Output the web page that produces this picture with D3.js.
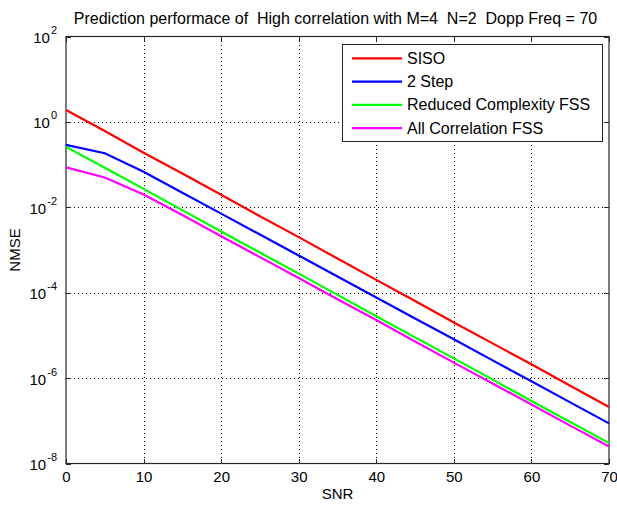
<!DOCTYPE html>
<html>
<head>
<meta charset="utf-8">
<script src="https://cdn.jsdelivr.net/npm/d3@7"></script>
<style>
  html, body { margin: 0; padding: 0; background: #fff; }
  svg { display: block; }
  text { font-family: "Liberation Sans", Arial, sans-serif; fill: #000; }
</style>
</head>
<body>
<svg id="chart" width="617" height="509"></svg>
<script>
// ---- data ----
const snr = [0, 5, 10, 15, 20, 25, 30, 35, 40, 45, 50, 55, 60, 65, 70];
const siso = [1.9, 0.61, 0.19, 0.062, 0.0196, 6.2e-3, 2.0e-3, 6.3e-4, 2.0e-4, 6.4e-5, 2.0e-5, 6.5e-6, 2.1e-6, 6.6e-7, 2.1e-7];
const twoStep = [0.29, 0.184, 0.068, 0.022, 7.1e-3, 2.3e-3, 7.4e-4, 2.4e-4, 7.7e-5, 2.5e-5, 8.1e-6, 2.6e-6, 8.4e-7, 2.7e-7, 8.7e-8];
const reducedFSS = [0.26, 0.084, 0.027, 8.6e-3, 2.7e-3, 8.7e-4, 2.8e-4, 8.9e-5, 2.8e-5, 9.0e-6, 2.9e-6, 9.2e-7, 2.9e-7, 9.4e-8, 3.0e-8];
const allCorrFSS = [0.086, 0.050, 0.020, 6.6e-3, 2.1e-3, 6.8e-4, 2.2e-4, 7.0e-5, 2.3e-5, 7.2e-6, 2.3e-6, 7.5e-7, 2.4e-7, 7.7e-8, 2.5e-8];
const seriesNames = ["SISO", "2 Step", "Reduced Complexity FSS", "All Correlation FSS"];
const seriesColors = ["#ff0000", "#0000ff", "#00ff00", "#ff00ff"];
const xTicks = [0, 10, 20, 30, 40, 50, 60, 70];
const yTicks = [1e-8, 1e-6, 1e-4, 1e-2, 1e0, 1e2];
const titleText = "Prediction performace of  High correlation with M=4  N=2  Dopp Freq = 70";
const xLabel = "SNR";
const yLabel = "NMSE";

// ---- layout ----
const L = 66, R = 609, T = 36.5, B = 463.5;
const svg = d3.select("#chart");
const x = d3.scaleLinear().domain([0, 70]).range([L, R]);
const y = d3.scaleLog().domain([1e-8, 1e2]).range([B, T]);

// grid
const grid = svg.append("g").attr("stroke", "#000").attr("stroke-width", 1)
  .attr("stroke-dasharray", "1,3").attr("shape-rendering", "crispEdges");
grid.selectAll("line.gx").data(xTicks.slice(1, -1)).enter().append("line")
  .attr("x1", d => Math.round(x(d)) + 0.5).attr("x2", d => Math.round(x(d)) + 0.5)
  .attr("y1", T).attr("y2", B);
grid.selectAll("line.gy").data(yTicks.slice(1, -1)).enter().append("line")
  .attr("y1", d => Math.round(y(d)) + 0.5).attr("y2", d => Math.round(y(d)) + 0.5)
  .attr("x1", L).attr("x2", R);

// axes
const tickLen = 5;
function styleAxis(g) {
  g.select(".domain").remove();
  g.selectAll(".tick line").attr("stroke", "#262626").attr("shape-rendering", "crispEdges");
}
svg.append("g").attr("transform", `translate(0,${B})`)
  .call(d3.axisBottom(x).tickValues(xTicks).tickSizeInner(-tickLen).tickSizeOuter(0).tickPadding(8))
  .call(styleAxis)
  .call(g => g.selectAll("text").attr("font-size", 15).attr("font-family", "Liberation Sans, Arial, sans-serif").attr("fill", "#000"));
svg.append("g").attr("transform", `translate(0,${T})`)
  .call(d3.axisTop(x).tickValues(xTicks).tickSizeInner(-tickLen).tickSizeOuter(0).tickFormat(""))
  .call(styleAxis);
const yAxisG = svg.append("g").attr("transform", `translate(${L},0)`)
  .call(d3.axisLeft(y).tickValues(yTicks).tickSizeInner(-tickLen).tickSizeOuter(0).tickFormat(() => ""))
  .call(styleAxis);
svg.append("g").attr("transform", `translate(${R},0)`)
  .call(d3.axisRight(y).tickValues(yTicks).tickSizeInner(-tickLen).tickSizeOuter(0).tickFormat(() => ""))
  .call(styleAxis);

// y tick labels 10^n
yAxisG.selectAll(".tick").each(function(d) {
  const t = d3.select(this).select("text");
  t.attr("x", null).attr("dy", null).attr("text-anchor", "start")
   .attr("font-size", 15).attr("fill", "#000");
  t.text(null);
  const ex = Math.round(Math.log10(d));
  const b = t.append("tspan").attr("y", 6).text("10");
  const e = t.append("tspan").attr("font-size", 11).attr("y", -3).text(String(ex));
  const bw = b.node().getComputedTextLength();
  const ew = e.node().getComputedTextLength();
  const end = -9;
  b.attr("x", end - ew - 1 - bw);
  e.attr("x", end - ew);
});

// box
svg.append("rect").attr("x", L).attr("y", T).attr("width", R - L).attr("height", B - T)
  .attr("fill", "none").attr("stroke", "#262626").attr("stroke-width", 1.2);

// lines
const allSeries = [siso, twoStep, reducedFSS, allCorrFSS];
const line = d3.line().x((d, i) => x(snr[i])).y(d => y(d));
svg.append("g").selectAll("path").data(allSeries).enter().append("path")
  .attr("d", d => line(d)).attr("fill", "none")
  .attr("stroke", (d, i) => seriesColors[i]).attr("stroke-width", 2.2);

// legend
const lg = svg.append("g");
lg.append("rect").attr("x", 342.5).attr("y", 44.5).attr("width", 260).attr("height", 97)
  .attr("fill", "#fff").attr("stroke", "#262626").attr("stroke-width", 1);
seriesNames.forEach((n, i) => {
  const cy = 58.3 + i * 23.3;
  lg.append("line").attr("x1", 352).attr("x2", 402).attr("y1", cy).attr("y2", cy)
    .attr("stroke", seriesColors[i]).attr("stroke-width", 2.2);
  lg.append("text").attr("x", 407).attr("y", cy + 5.5).attr("font-size", 16).text(n);
});

// title & labels
svg.append("text").attr("x", (L + R) / 2 - 2).attr("y", 24).attr("text-anchor", "middle")
  .attr("font-size", 16).style("white-space", "pre").attr("xml:space", "preserve").text(titleText);
svg.append("text").attr("x", (L + R) / 2).attr("y", 499).attr("text-anchor", "middle")
  .attr("font-size", 15).text(xLabel);
svg.append("text").attr("transform", "translate(20,250) rotate(-90)").attr("text-anchor", "middle")
  .attr("font-size", 15).text(yLabel);
</script>
</body>
</html>
